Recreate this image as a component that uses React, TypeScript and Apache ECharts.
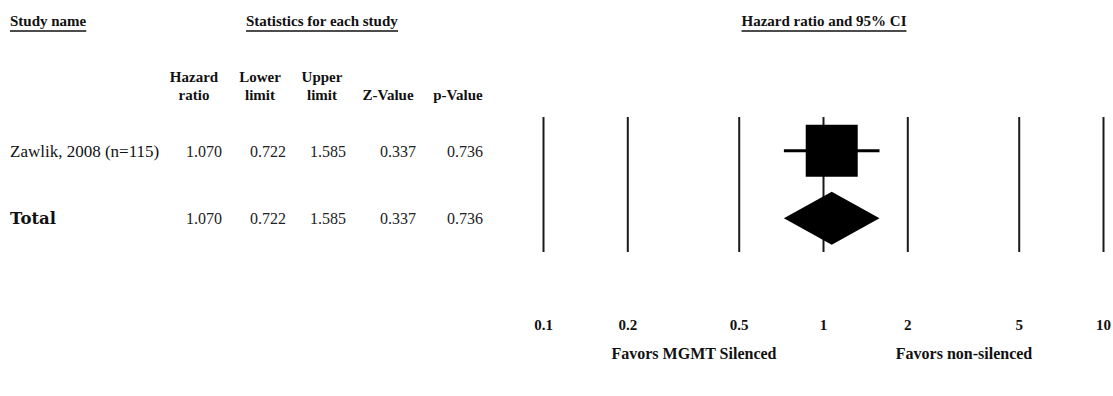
import React, { useEffect, useRef } from "react";
import * as echarts from "echarts";

const studyNames = ["Zawlik, 2008 (n=115)", "Total"];
const hazardRatio = [1.07, 1.07];
const lowerLimit = [0.722, 0.722];
const upperLimit = [1.585, 1.585];
const zValue = [0.337, 0.337];
const pValue = [0.736, 0.736];
const isTotal = [false, true];
const tickValues = [0.1, 0.2, 0.5, 1, 2, 5, 10];
const tickLabels = ["0.1", "0.2", "0.5", "1", "2", "5", "10"];
const columnHeaders = [
  ["Hazard", "ratio"],
  ["Lower", "limit"],
  ["Upper", "limit"],
  ["", "Z-Value"],
  ["", "p-Value"],
];
const leftLabel = "Favors MGMT Silenced";
const rightLabel = "Favors non-silenced";

const SERIF = '"Liberation Serif", "Times New Roman", serif';
const INK = "#111";

function measure(text: string, font: string): number {
  const c = document.createElement("canvas").getContext("2d");
  if (!c) return text.length * 7;
  c.font = font;
  return c.measureText(text).width;
}

export default function App() {
  const ref = useRef<HTMLDivElement>(null);
  useEffect(() => {
    if (!ref.current) return;
    const chart = echarts.init(ref.current, undefined, { renderer: "svg" });

    const headFont = `bold 15px ${SERIF}`;
    const bodyFont = `16px ${SERIF}`;
    const graphics: any[] = [];

    const underlined = (text: string, x: number, y: number, align: string) => {
      const w = measure(text, headFont);
      const x0 = align === "center" ? x - w / 2 : x;
      graphics.push({
        type: "text",
        x,
        y,
        style: { text, font: headFont, fill: INK, align, verticalAlign: "middle" },
      });
      graphics.push({
        type: "line",
        shape: { x1: x0, y1: y + 10, x2: x0 + w, y2: y + 10 },
        style: { stroke: INK, lineWidth: 1.5 },
      });
    };
    underlined("Study name", 10, 21, "left");
    underlined("Statistics for each study", 246, 21, "left");
    underlined("Hazard ratio and 95% CI", 824, 21, "center");

    const headerX = [194, 260, 322, 388, 458];
    const valueRight = [222, 286, 346, 416, 483];
    columnHeaders.forEach((lines, i) => {
      lines.forEach((t, j) => {
        if (!t) return;
        graphics.push({
          type: "text",
          x: headerX[i],
          y: 77 + j * 18,
          style: { text: t, font: headFont, fill: INK, align: "center", verticalAlign: "middle" },
        });
      });
    });

    const rowY = [151, 218];
    studyNames.forEach((name, r) => {
      graphics.push({
        type: "text",
        x: 10,
        y: rowY[r],
        style: {
          text: name,
          font: isTotal[r] ? `bold 16.5px "DejaVu Serif", serif` : `17px ${SERIF}`,
          fill: INK,
          align: "left",
          verticalAlign: "middle",
        },
      });
      const vals = [hazardRatio[r], lowerLimit[r], upperLimit[r], zValue[r], pValue[r]];
      vals.forEach((v, c) => {
        graphics.push({
          type: "text",
          x: valueRight[c],
          y: rowY[r],
          style: { text: v.toFixed(3), font: bodyFont, fill: "#222", align: "right", verticalAlign: "middle" },
        });
      });
    });

    graphics.push({
      type: "text",
      x: 694,
      y: 353,
      style: { text: leftLabel, font: `bold 16px ${SERIF}`, fill: INK, align: "center", verticalAlign: "middle" },
    });
    graphics.push({
      type: "text",
      x: 964,
      y: 353,
      style: { text: rightLabel, font: `bold 16px ${SERIF}`, fill: INK, align: "center", verticalAlign: "middle" },
    });

    const studyData = studyNames.map((_, i) => [hazardRatio[i], i * 2 + 1, lowerLimit[i], upperLimit[i], isTotal[i] ? 1 : 0]);

    chart.setOption({
      animation: false,
      backgroundColor: "#fff",
      grid: { left: 543.5, right: 9.5, top: 117, bottom: 144 },
      xAxis: {
        type: "log",
        logBase: 10,
        min: 0.1,
        max: 10,
        axisLine: { show: false },
        axisTick: { show: false },
        splitLine: { show: false },
        axisLabel: { show: false },
      },
      yAxis: {
        type: "value",
        min: 0,
        max: 4,
        inverse: true,
        show: false,
        splitLine: { show: false },
      },
      graphic: graphics,
      series: [
        {
          type: "custom",
          z: 1,
          clip: false,
          data: tickValues.map((v, i) => [v, 0, i]),
          renderItem: (params: any, api: any) => {
            const v = api.value(0);
            const idx = api.value(2);
            const top = api.coord([v, 0]);
            const bot = api.coord([v, 4]);
            return {
              type: "group",
              children: [
                {
                  type: "line",
                  shape: { x1: top[0], y1: top[1], x2: bot[0], y2: bot[1] },
                  style: { stroke: "#1a1a1a", lineWidth: 2 },
                },
                {
                  type: "text",
                  x: bot[0],
                  y: bot[1] + 73,
                  style: {
                    text: tickLabels[idx],
                    font: `bold 15px ${SERIF}`,
                    fill: INK,
                    align: "center",
                    verticalAlign: "middle",
                  },
                },
              ],
            };
          },
        },
        {
          type: "custom",
          z: 2,
          clip: false,
          data: studyData,
          renderItem: (params: any, api: any) => {
            const hr = api.value(0);
            const y = api.value(1);
            const lo = api.value(2);
            const hi = api.value(3);
            const total = api.value(4) === 1;
            const c = api.coord([hr, y]);
            const l = api.coord([lo, y]);
            const h = api.coord([hi, y]);
            if (total) {
              const d = 26.5;
              return {
                type: "polygon",
                shape: { points: [[l[0], l[1]], [c[0], c[1] - d], [h[0], h[1]], [c[0], c[1] + d]] },
                style: { fill: "#000" },
              };
            }
            const s = 52;
            return {
              type: "group",
              children: [
                {
                  type: "line",
                  shape: { x1: l[0], y1: l[1], x2: h[0], y2: h[1] },
                  style: { stroke: "#000", lineWidth: 3 },
                },
                {
                  type: "rect",
                  shape: { x: c[0] - s / 2, y: c[1] - s / 2, width: s, height: s },
                  style: { fill: "#000" },
                },
              ],
            };
          },
        },
      ],
    });
    return () => chart.dispose();
  }, []);
  return (
    <div
      ref={ref}
      style={{ position: "absolute", left: 0, top: 0, width: 1113, height: 396, background: "#fff" }}
    />
  );
}
